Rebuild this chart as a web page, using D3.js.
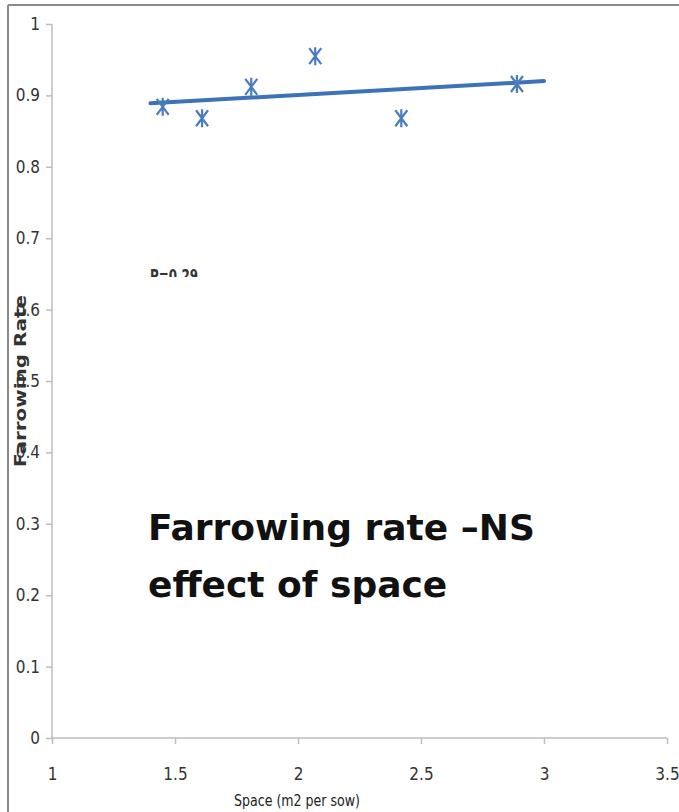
<!DOCTYPE html>
<html>
<head>
<meta charset="utf-8">
<script src="https://cdn.jsdelivr.net/npm/d3@7"></script>
<style>
  body { margin: 0; background: #fff; }
  svg { display: block; }
  .narrow { font-family: 'DejaVu Sans', sans-serif; font-stretch: condensed; }
</style>
</head>
<body>
<svg id="svg"></svg>
<script>
// data
var spaceVals = [1.45, 1.61, 1.81, 2.07, 2.42, 2.89];
var rateVals = [0.884, 0.868, 0.912, 0.955, 0.868, 0.916];
var trendX = [1.40, 3.0];
var trendY = [0.889, 0.920];
var xTicks = [1, 1.5, 2, 2.5, 3, 3.5];
var yTicks = [0, 0.1, 0.2, 0.3, 0.4, 0.5, 0.6, 0.7, 0.8, 0.9, 1];
var pText = "P=0.29";
var titleLines = ["Farrowing rate \u2013NS", "effect of space"];

var width = 679, height = 812;
var blue = "#4a7cc0";
var lineBlue = "#3d72b8";
var axisColor = "#bdbdbd";

var svg = d3.select("#svg").attr("width", width).attr("height", height);

// frame of the slide
svg.append("line").attr("x1", 8).attr("x2", width).attr("y1", 5).attr("y2", 5)
  .attr("stroke", "#8a8a8a").attr("stroke-width", 2);
svg.append("line").attr("x1", 8).attr("x2", 8).attr("y1", 5).attr("y2", height)
  .attr("stroke", "#8a8a8a").attr("stroke-width", 2);

var x = d3.scaleLinear().domain([1, 3.5]).range([52, 667]);
var y = d3.scaleLinear().domain([0, 1]).range([738, 24]);

// y axis
var yAxis = svg.append("g")
  .attr("transform", "translate(52,0)")
  .call(d3.axisLeft(y).tickValues(yTicks).tickSize(6).tickPadding(6)
    .tickFormat(function(d) { return d === 0 || d === 1 ? d3.format("d")(d) : d3.format(".1f")(d); }));
yAxis.select(".domain").attr("stroke", axisColor).attr("stroke-width", 1.5).attr("d", "M0," + y(1) + "V" + y(0));
yAxis.selectAll(".tick line").attr("stroke", axisColor).attr("stroke-width", 1.5);
yAxis.selectAll(".tick text").attr("class", "narrow").attr("fill", "#333").style("font-size", "17px");

// x axis
var xAxis = svg.append("g")
  .attr("transform", "translate(0," + y(0) + ")")
  .call(d3.axisBottom(x).tickValues(xTicks).tickSize(6).tickPadding(24)
    .tickFormat(function(d) { return d % 1 === 0 ? d3.format("d")(d) : d3.format(".1f")(d); }));
xAxis.select(".domain").attr("stroke", axisColor).attr("stroke-width", 1.5).attr("d", "M" + x(1) + ",0H" + x(3.5));
xAxis.selectAll(".tick line").attr("stroke", axisColor).attr("stroke-width", 1.5);
xAxis.selectAll(".tick text").attr("class", "narrow").attr("fill", "#333").style("font-size", "17px");

// axis titles
svg.append("text")
  .attr("class", "narrow")
  .attr("x", 297).attr("y", 806)
  .attr("text-anchor", "middle")
  .style("font-size", "16px").attr("fill", "#222")
  .attr("textLength", 126).attr("lengthAdjust", "spacingAndGlyphs")
  .text("Space  (m2 per sow)");

svg.append("text")
  .attr("transform", "translate(26,381) rotate(-90)")
  .attr("text-anchor", "middle")
  .style("font-family", "'DejaVu Sans', sans-serif").style("font-size", "15px").style("font-weight", "bold")
  .attr("fill", "#333")
  .attr("textLength", 172).attr("lengthAdjust", "spacingAndGlyphs")
  .text("Farrowing Rate");

// trend line
svg.append("line")
  .attr("x1", x(trendX[0])).attr("y1", y(trendY[0]))
  .attr("x2", x(trendX[1])).attr("y2", y(trendY[1]))
  .attr("stroke", lineBlue).attr("stroke-width", 4).attr("stroke-linecap", "round");

// star markers
var star = "M0,-9V9M-6,-8L6,8M6,-8L-6,8";
svg.selectAll("path.pt")
  .data(spaceVals)
  .enter()
  .append("path")
  .attr("class", "pt")
  .attr("transform", function(d, i) { return "translate(" + x(d) + "," + y(rateVals[i]) + ")"; })
  .attr("d", star)
  .attr("fill", "none").attr("stroke", blue).attr("stroke-width", 2.2);

// clipped p-value label (only the top half shows)
svg.append("clipPath").attr("id", "pclip")
  .append("rect").attr("x", 140).attr("y", 260).attr("width", 80).attr("height", 17);
svg.append("text")
  .attr("x", 150).attr("y", 282)
  .attr("clip-path", "url(#pclip)")
  .style("font-family", "'DejaVu Sans', sans-serif").style("font-size", "17px").style("font-weight", "bold")
  .attr("fill", "#333")
  .attr("textLength", 48).attr("lengthAdjust", "spacingAndGlyphs")
  .text(pText);

// slide title text
svg.selectAll("text.title")
  .data(titleLines)
  .enter()
  .append("text")
  .attr("class", "title")
  .attr("x", 148)
  .attr("y", function(d, i) { return 540 + i * 57; })
  .style("font-family", "'DejaVu Sans', sans-serif").style("font-size", "36px").style("font-weight", "bold")
  .attr("fill", "#111")
  .text(function(d) { return d; });
</script>
</body>
</html>
